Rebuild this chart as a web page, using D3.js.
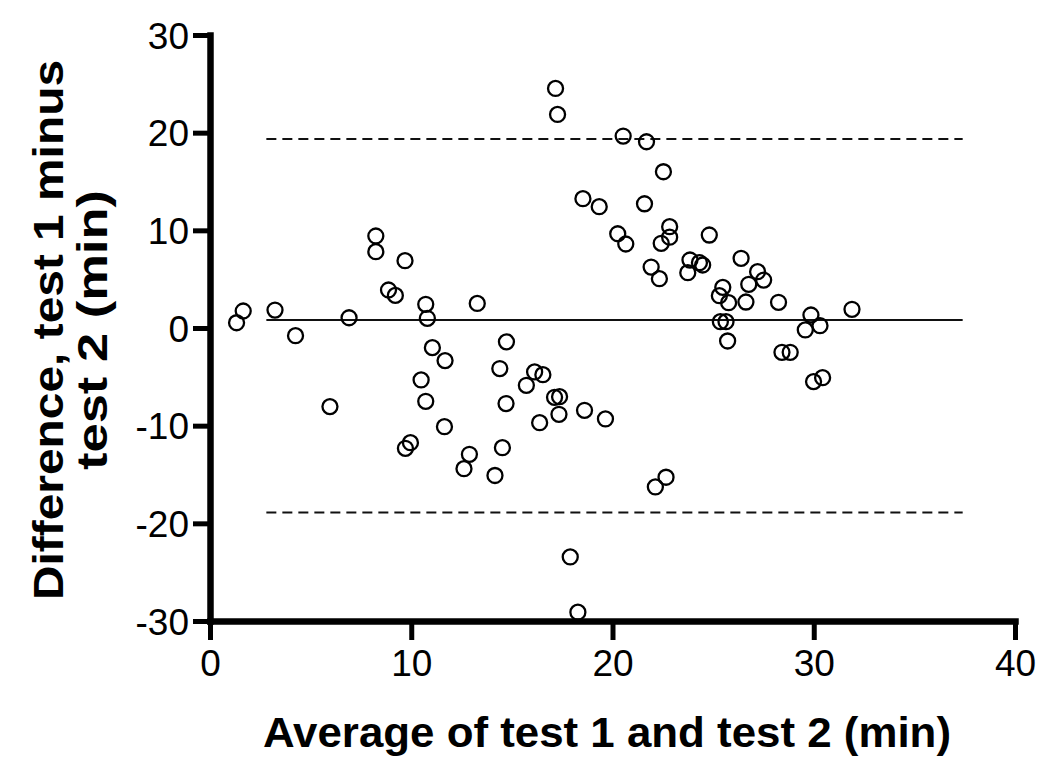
<!DOCTYPE html>
<html>
<head>
<meta charset="utf-8">
<script src="https://cdn.jsdelivr.net/npm/d3@7"></script>
<style>
  html, body { margin: 0; padding: 0; background: #fff; }
  svg { display: block; }
  text { font-family: "Liberation Sans", Arial, sans-serif; fill: #000; }
</style>
</head>
<body>
<svg id="chart" width="1050" height="781"></svg>
<script>
// Average of test 1 and test 2 (min)
const averages = [
  1.32, 1.65, 3.23, 4.25, 6.91, 5.96, 8.24, 8.24, 9.69, 8.87,
  9.21, 10.72, 10.80, 13.28, 11.05, 11.68, 10.49, 10.72, 11.65, 9.96,
  9.71, 12.89, 12.62, 14.16, 14.53, 14.40, 14.73, 14.71, 16.13, 16.54,
  15.72, 17.12, 17.37, 17.34, 18.61, 19.65, 16.38, 22.66, 22.13, 17.90,
  18.28, 17.17, 17.27, 20.53, 21.69, 22.53, 18.53, 19.34, 21.59, 20.26,
  20.66, 22.84, 22.84, 22.42, 21.92, 22.33, 23.85, 23.74, 24.32, 24.48,
  24.81, 26.39, 27.21, 27.51, 26.77, 26.63, 25.48, 25.31, 25.77, 25.36,
  25.64, 25.72, 28.25, 28.42, 28.83, 29.86, 29.58, 30.31, 31.90, 29.99,
  30.44
];
// Difference, test 1 minus test 2 (min)
const differences = [
  0.54, 1.74, 1.84, -0.79, 1.05, -8.05, 9.42, 7.81, 6.89, 3.89,
  3.34, 2.42, 0.99, 2.52, -2.01, -3.34, -5.32, -7.51, -10.10, -11.74,
  -12.32, -12.93, -14.40, -15.10, -12.25, -4.15, -1.42, -7.74, -4.50, -4.78,
  -5.87, -7.10, -7.03, -8.84, -8.43, -9.31, -9.69, -15.28, -16.27, -23.44,
  -29.10, 24.53, 21.87, 19.65, 19.07, 16.00, 13.24, 12.42, 12.72, 9.65,
  8.60, 10.37, 9.30, 8.67, 6.24, 5.05, 6.96, 5.66, 6.69, 6.45,
  9.52, 7.13, 5.77, 4.91, 4.47, 2.66, 4.16, 3.31, 2.59, 0.65,
  0.65, -1.33, 2.63, -2.49, -2.49, 1.33, -0.20, 0.24, 1.91, -5.49,
  -5.09
];
// Bias and limits of agreement
const meanDiff = 0.82;
const upperLimit = 19.35;
const lowerLimit = -18.9;
const refLineExtent = [2.8, 37.4];

const xTicks = [0, 10, 20, 30, 40];
const yTicks = [-30, -20, -10, 0, 10, 20, 30];
const xTitle = "Average of test 1 and test 2 (min)";
const yTitleLines = ["Difference, test 1 minus", "test 2 (min)"];

const svg = d3.select("#chart");
const x = d3.scaleLinear().domain([0, 40]).range([210, 1015]);
const y = d3.scaleLinear().domain([-30, 30]).range([621, 35]);

// reference lines
const refs = [
  { v: upperLimit, dash: "10,6" },
  { v: meanDiff, dash: null },
  { v: lowerLimit, dash: "10,6" }
];
svg.append("g").selectAll("line").data(refs).join("line")
  .attr("x1", x(refLineExtent[0])).attr("x2", x(refLineExtent[1]))
  .attr("y1", d => y(d.v)).attr("y2", d => y(d.v))
  .attr("stroke", "#111").attr("stroke-width", 2)
  .attr("stroke-dasharray", d => d.dash);

// points
const pts = averages.map((a, i) => ({ a, d: differences[i] }));
svg.append("g").selectAll("circle").data(pts).join("circle")
  .attr("cx", d => x(d.a)).attr("cy", d => y(d.d))
  .attr("r", 7.5)
  .attr("fill", "none").attr("stroke", "#000").attr("stroke-width", 2.3);

// axes
const fmt = d => String(d);
const xAxis = svg.append("g").attr("transform", `translate(0,${y(-30)})`)
  .call(d3.axisBottom(x).tickValues(xTicks).tickFormat(fmt).tickSize(19).tickPadding(9).tickSizeOuter(0));
const yAxis = svg.append("g").attr("transform", `translate(${x(0)},0)`)
  .call(d3.axisLeft(y).tickValues(yTicks).tickFormat(fmt).tickSize(17).tickPadding(4).tickSizeOuter(0));

[xAxis, yAxis].forEach(g => {
  g.select(".domain").attr("stroke", "#000").attr("stroke-width", 6.5).attr("stroke-linecap", "square");
  g.selectAll(".tick line").attr("stroke", "#000").attr("stroke-width", 5);
  g.selectAll(".tick text")
    .style("font-family", '"Liberation Sans", Arial, sans-serif')
    .style("font-size", "37px").attr("fill", "#000");
});
yAxis.selectAll(".tick text").attr("dy", "0.36em");
xAxis.selectAll(".tick text").attr("dy", "0.72em");

// x title
svg.append("text")
  .attr("x", 607).attr("y", 747)
  .attr("text-anchor", "middle")
  .style("font-size", "42px").style("font-weight", "bold")
  .attr("textLength", 688).attr("lengthAdjust", "spacingAndGlyphs")
  .text(xTitle);

// y title (two lines)
const yLinePos = [{ bx: 63, len: 540 }, { bx: 107, len: 280 }];
yTitleLines.forEach((t, i) => {
  svg.append("text")
    .attr("transform", `translate(${yLinePos[i].bx},330) rotate(-90)`)
    .attr("text-anchor", "middle")
    .style("font-size", "42px").style("font-weight", "bold")
    .attr("textLength", yLinePos[i].len).attr("lengthAdjust", "spacingAndGlyphs")
    .text(t);
});
</script>
</body>
</html>
